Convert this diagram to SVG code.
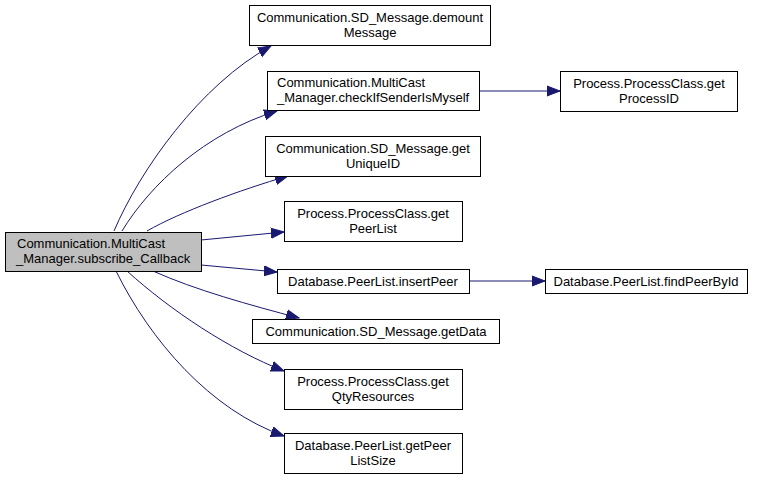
<svg xmlns="http://www.w3.org/2000/svg" width="757" height="481" viewBox="0 0 757 481">
<style>
.n rect{fill:#ffffff;stroke:#000000;stroke-width:1}
.n.main rect{fill:#bfbfbf}
.n text{font-family:"Liberation Sans",Arial,sans-serif;font-size:13px;fill:#000000}
.c{text-anchor:middle}
.e path{fill:none;stroke:#191970;stroke-width:1;marker-end:url(#ah)}
</style>
<defs>
<marker id="ah" markerUnits="userSpaceOnUse" markerWidth="16" markerHeight="14" refX="13" refY="6" orient="auto">
<polygon points="0,1 13,6 0,11" fill="#191970" stroke="#191970"/>
</marker>
</defs>
<rect width="757" height="481" fill="#ffffff"/>
<g id="edges" class="e">
<path d="M114,231 C140,170 200,85 271,46"/>
<path d="M122,231 C150,185 205,133 277,111"/>
<path d="M147,231 C180,212 240,190 288,176"/>
<path d="M201,240 L284,232"/>
<path d="M201,265 L277,272"/>
<path d="M153,271 C195,290 250,305 299,318"/>
<path d="M127,271 C170,310 230,350 284,371"/>
<path d="M116,271 C150,340 210,410 284,436"/>
<path d="M479,91 L560,91"/>
<path d="M469,281 L545,281"/>
</g>
<g id="node_main" class="n main">
<rect x="5.5" y="232.5" width="196" height="39"/>
<text x="17" y="248">Communication.MultiCast</text>
<text x="16" y="263">_Manager.subscribe_Callback</text>
</g>
<g id="node_demount" class="n">
<rect x="249.5" y="5.5" width="241" height="40"/>
<text class="c" x="370" y="22">Communication.SD_Message.demount</text>
<text class="c" x="370" y="37">Message</text>
</g>
<g id="node_checkIfSender" class="n">
<rect x="267.5" y="71.5" width="212" height="39"/>
<text x="277" y="87">Communication.MultiCast</text>
<text x="277" y="102">_Manager.checkIfSenderIsMyself</text>
</g>
<g id="node_getProcessID" class="n">
<rect x="560.5" y="71.5" width="177" height="40"/>
<text class="c" x="649" y="88">Process.ProcessClass.get</text>
<text class="c" x="649" y="103">ProcessID</text>
</g>
<g id="node_getUniqueID" class="n">
<rect x="265.5" y="136.5" width="215" height="40"/>
<text class="c" x="373" y="153">Communication.SD_Message.get</text>
<text class="c" x="373" y="168">UniqueID</text>
</g>
<g id="node_getPeerList" class="n">
<rect x="284.5" y="201.5" width="178" height="40"/>
<text class="c" x="373" y="218">Process.ProcessClass.get</text>
<text class="c" x="373" y="233">PeerList</text>
</g>
<g id="node_insertPeer" class="n">
<rect x="277.5" y="269.5" width="192" height="24"/>
<text class="c" x="373" y="286">Database.PeerList.insertPeer</text>
</g>
<g id="node_findPeerById" class="n">
<rect x="545.5" y="269.5" width="202" height="24"/>
<text class="c" x="646" y="286">Database.PeerList.findPeerById</text>
</g>
<g id="node_getData" class="n">
<rect x="252.5" y="319.5" width="247" height="24"/>
<text class="c" x="376" y="336">Communication.SD_Message.getData</text>
</g>
<g id="node_getQtyResources" class="n">
<rect x="284.5" y="369.5" width="178" height="40"/>
<text class="c" x="373" y="386">Process.ProcessClass.get</text>
<text class="c" x="373" y="401">QtyResources</text>
</g>
<g id="node_getPeerListSize" class="n">
<rect x="284.5" y="433.5" width="178" height="40"/>
<text class="c" x="373" y="450">Database.PeerList.getPeer</text>
<text class="c" x="373" y="465">ListSize</text>
</g>
</svg>
